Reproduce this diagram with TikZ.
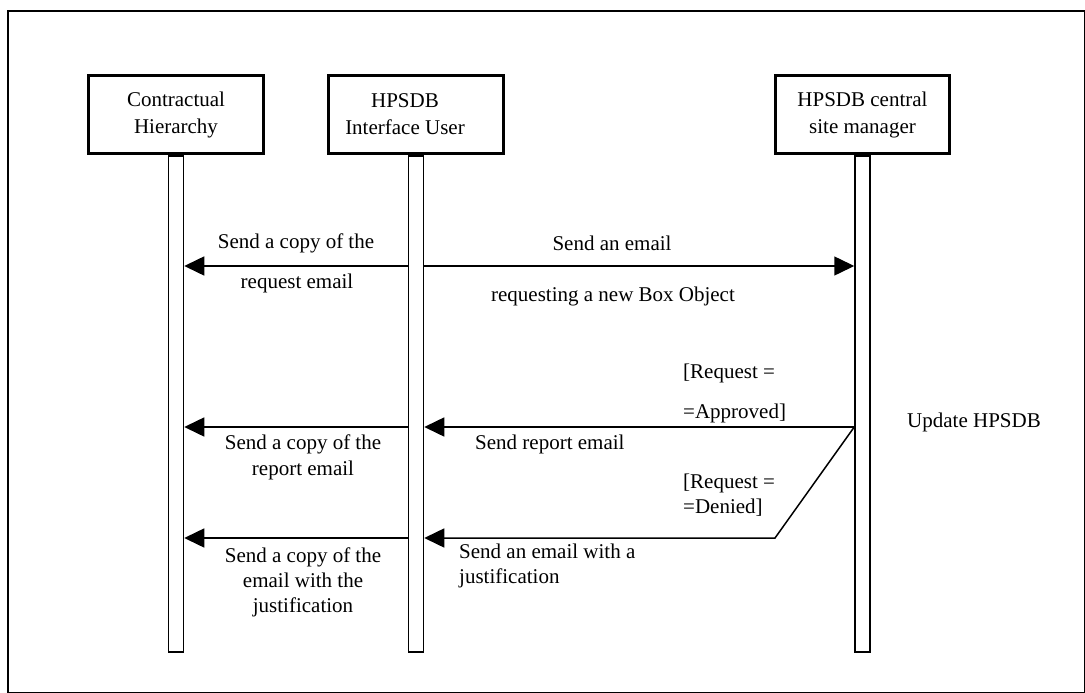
\documentclass[tikz,border=0pt]{standalone}
\usepackage{fontspec}
\setmainfont{Liberation Serif}
\usetikzlibrary{arrows.meta}
\begin{document}
\begin{tikzpicture}[x=1pt,y=-1pt,
  actor/.style={draw,line width=3pt,minimum height=78pt,align=center,inner sep=0pt,
    font=\fontsize{21}{27}\selectfont},
  lifeline/.style={draw,line width=1.5pt,minimum width=15pt,minimum height=496pt,
    inner sep=0pt,anchor=north},
  msg/.style={line width=1.5pt,-{Triangle[length=20pt,width=19pt]}},
  lbl/.style={inner sep=0pt,font=\fontsize{21}{25}\selectfont},
]
\useasboundingbox (0,0) rectangle (1085,693);
% outer frame
\draw[line width=1.5pt] (8.2,11.2) rectangle (1084.5,692.5);

% participants
\node[actor,minimum width=175pt] (ch) at (176,114.5) {Contractual\\Hierarchy};
\node[actor,minimum width=175pt] (iu) at (416,114.5) {HPSDB\kern22pt\\Interface User\kern22pt};
\node[actor,minimum width=174pt] (cm) at (862.5,114.5) {HPSDB central\\site manager};

% lifelines
\node[lifeline] (chl) at (ch.south) {};
\node[lifeline] (iul) at (iu.south) {};
\node[lifeline] (cml) at (cm.south) {};

% message rows
\coordinate (r1) at (0,266);
\coordinate (r2) at (0,427);
\coordinate (r3) at (0,538);
\coordinate (bend) at (775,538);

\draw[msg] (iul.west |- r1) -- (chl.east |- r1);
\draw[msg] (iul.east |- r1) -- (cml.west |- r1);
\draw[msg] (iul.west |- r2) -- (chl.east |- r2);
\draw[msg] (cml.west |- r2) -- (iul.east |- r2);
\draw[msg] (iul.west |- r3) -- (chl.east |- r3);
\draw[msg] (cml.west |- r2) -- (bend) -- (iul.east |- r3);

% labels
\node[lbl] (l1a) at (296,243) {Send a copy of the};
\node[lbl] (l1b) at (297,283) {request email};
\node[lbl] (l2a) at (612,243) {Send an email};
\node[lbl] (l2b) at (613,296) {requesting a new Box Object};

\node[lbl,anchor=west] (g1a) at (683,373) {[Request =};
\node[lbl,anchor=west] (g1b) at (683,413) {=Approved]};
\node[lbl,anchor=west] (l3) at (475,444) {Send report email};
\node[lbl,align=center,font=\fontsize{21}{26}\selectfont] (l4) at (303,457) {Send a copy of the\\report email};

\node[lbl,anchor=west] (g2a) at (683,483) {[Request =};
\node[lbl,anchor=west] (g2b) at (683,508) {=Denied]};
\node[lbl,anchor=west,align=left] (l5) at (459,565.5) {Send an email with a\\justification};
\node[lbl,align=center] (l6) at (303,582) {Send a copy of the\\email with the\\justification};

\node[lbl] (upd) at (974,422) {Update HPSDB};
\end{tikzpicture}
\end{document}
